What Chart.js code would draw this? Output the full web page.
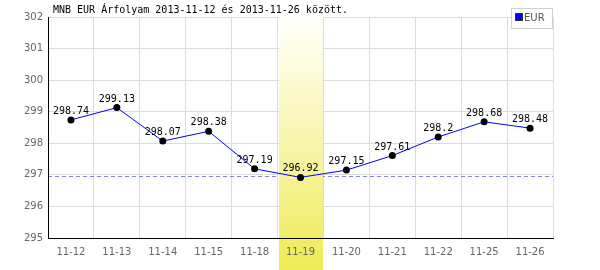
<!DOCTYPE html>
<html>
<head>
<meta charset="utf-8">
<script src="https://cdn.jsdelivr.net/npm/chart.js@4"></script>
<style>
  html, body { margin: 0; padding: 0; background: #fff; }
  #wrap { width: 600px; height: 270px; }
</style>
</head>
<body>
<div id="wrap"><canvas id="rateChart" width="600" height="270"></canvas></div>
<script>
// adatok
const labels = ["11-12", "11-13", "11-14", "11-15", "11-18", "11-19", "11-20", "11-21", "11-22", "11-25", "11-26"];
const eurValues = [298.74, 299.13, 298.07, 298.38, 297.19, 296.92, 297.15, 297.61, 298.2, 298.68, 298.48];
const yTicks = [295, 296, 297, 298, 299, 300, 301, 302];
const highlightIndex = 5;
const titleText = "MNB EUR Árfolyam 2013-11-12 és 2013-11-26 között.";

const monoFont = "10px 'DejaVu Sans Mono', monospace";

// kiemelt nap sáv + minimum vonal + címkék
const extrasPlugin = {
  id: "extras",
  beforeDatasetsDraw(chart) {
    const { ctx, chartArea, scales } = chart;
    const x = scales.x, y = scales.y;
    ctx.save();

    // minimum szaggatott vonal
    const minVal = Math.min(...eurValues);
    const my = Math.round(y.getPixelForValue(minVal)) - 0.5;
    ctx.strokeStyle = "#8080ff";
    ctx.lineWidth = 1;
    ctx.setLineDash([4, 3]);
    ctx.beginPath();
    ctx.moveTo(chartArea.left, my);
    ctx.lineTo(chartArea.right, my);
    ctx.stroke();
    ctx.setLineDash([]);

    // kiemelt nap
    const half = (x.getPixelForValue(1) - x.getPixelForValue(0)) / 2;
    const cx = x.getPixelForValue(highlightIndex);
    const left = Math.round(cx - half) + 1;
    const right = Math.round(cx + half);
    const grad = ctx.createLinearGradient(0, chartArea.top, 0, chart.height);
    grad.addColorStop(0, "#fffffa");
    grad.addColorStop(0.45, "#f8f6b4");
    grad.addColorStop(1, "#eeea55");
    ctx.fillStyle = grad;
    ctx.fillRect(left, chartArea.top, right - left, chart.height - chartArea.top);
    ctx.restore();
  },
  afterDatasetsDraw(chart) {
    const { ctx, chartArea } = chart;
    ctx.save();
    // értékcímkék
    const meta = chart.getDatasetMeta(0);
    ctx.font = monoFont;
    ctx.fillStyle = "#000";
    ctx.textAlign = "center";
    ctx.textBaseline = "alphabetic";
    meta.data.forEach((pt, i) => {
      ctx.fillText(String(eurValues[i]), pt.x, pt.y - 6);
    });

    // cím
    ctx.textAlign = "left";
    ctx.fillText(titleText, chartArea.left + 5, 13);

    // jelmagyarázat
    ctx.fillStyle = "#fff";
    ctx.fillRect(511, 8, 41, 20);
    ctx.strokeStyle = "#d0d0d0";
    ctx.lineWidth = 1;
    ctx.strokeRect(511.5, 8.5, 41, 20);
    ctx.fillStyle = "#0000ff";
    ctx.fillRect(516, 14, 6, 6);
    ctx.strokeStyle = "#333";
    ctx.strokeRect(515.5, 13.5, 7, 7);
    ctx.fillStyle = "#555";
    ctx.font = "10px 'DejaVu Sans', sans-serif";
    ctx.textBaseline = "middle";
    ctx.fillText("EUR", 524, 18);
    ctx.restore();
  }
};

new Chart(document.getElementById("rateChart"), {
  type: "line",
  data: {
    labels: labels,
    datasets: [{
      label: "EUR",
      data: eurValues,
      borderColor: "#0000ff",
      borderWidth: 1,
      pointBackgroundColor: "#000",
      pointBorderColor: "#000",
      pointRadius: 3.5,
      pointBorderWidth: 0,
      tension: 0
    }]
  },
  options: {
    responsive: false,
    animation: false,
    layout: { padding: { top: 17, right: 47, left: 0, bottom: 0 } },
    plugins: {
      legend: { display: false },
      tooltip: { enabled: false }
    },
    scales: {
      x: {
        type: "category",
        offset: true,
        afterFit(scale) { scale.height = 32; },
        grid: { offset: true, color: "#dcdcdc", drawTicks: false },
        border: { color: "#000", width: 1, z: 1 },
        ticks: {
          z: 1,
          color: "#666",
          font: { family: "'DejaVu Sans', sans-serif", size: 10 },
          padding: 8,
          maxRotation: 0,
          autoSkip: false
        }
      },
      y: {
        min: yTicks[0],
        max: yTicks[yTicks.length - 1],
        afterFit(scale) { scale.width = 48; },
        afterBuildTicks(scale) { scale.ticks = yTicks.map(v => ({ value: v })); },
        grid: { color: "#dcdcdc", drawTicks: false },
        border: { color: "#000", width: 1, z: 1 },
        ticks: {
          z: 1,
          color: "#666",
          font: { family: "'DejaVu Sans', sans-serif", size: 10 },
          padding: 5
        }
      }
    }
  },
  plugins: [extrasPlugin]
});
</script>
</body>
</html>
